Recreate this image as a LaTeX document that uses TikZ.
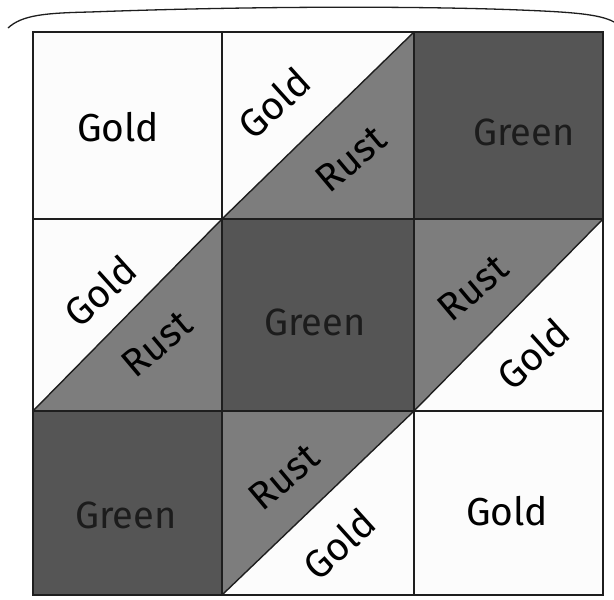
\documentclass[tikz,border=0pt]{standalone}
\usepackage{fontspec}
\setmainfont{Fira Sans}
\definecolor{greenc}{RGB}{85,85,85}
\definecolor{rustc}{RGB}{125,125,125}
\definecolor{goldc}{RGB}{252,252,252}
\definecolor{inkc}{RGB}{30,30,30}
\definecolor{darkink}{RGB}{28,28,28}
\tikzset{
  seam/.style={draw=inkc, line width=1.4pt},
  frame/.style={draw=inkc, line width=2pt},
  lbl/.style={font=\fontsize{39}{39}\selectfont, text=black, inner sep=0pt},
  glbl/.style={font=\fontsize{38}{38}\selectfont, text=darkink, inner sep=0pt},
}
\begin{document}
\begin{tikzpicture}[x=1pt,y=-1pt]
\useasboundingbox (0,0) rectangle (614,600);
\fill[white] (0,0) rectangle (614,600);
% grid coordinates
\def\xa{33}\def\xb{222}\def\xc{414}\def\xd{603}
\def\ya{32}\def\yb{219}\def\yc{411}\def\yd{595}
% Gold squares
\fill[goldc] (\xa,\ya) rectangle (\xb,\yb);
\fill[goldc] (\xc,\yc) rectangle (\xd,\yd);
% Green squares
\fill[greenc] (\xc,\ya) rectangle (\xd,\yb);
\fill[greenc] (\xb,\yb) rectangle (\xc,\yc);
\fill[greenc] (\xa,\yc) rectangle (\xb,\yd);
% top middle half-square triangles
\fill[goldc] (\xb,\ya) -- (\xc,\ya) -- (\xb,\yb) -- cycle;
\fill[rustc] (\xc,\ya) -- (\xc,\yb) -- (\xb,\yb) -- cycle;
% middle left
\fill[goldc] (\xa,\yb) -- (\xb,\yb) -- (\xa,\yc) -- cycle;
\fill[rustc] (\xb,\yb) -- (\xb,\yc) -- (\xa,\yc) -- cycle;
% middle right
\fill[rustc] (\xc,\yb) -- (\xd,\yb) -- (\xc,\yc) -- cycle;
\fill[goldc] (\xd,\yb) -- (\xd,\yc) -- (\xc,\yc) -- cycle;
% bottom middle
\fill[rustc] (\xb,\yc) -- (\xc,\yc) -- (\xb,\yd) -- cycle;
\fill[goldc] (\xc,\yc) -- (\xc,\yd) -- (\xb,\yd) -- cycle;
% seams
\draw[seam] (\xb,\ya) -- (\xb,\yd);
\draw[seam] (\xc,\ya) -- (\xc,\yd);
\draw[seam] (\xa,\yb) -- (\xd,\yb);
\draw[seam] (\xa,\yc) -- (\xd,\yc);
\draw[seam] (\xb,\yb) -- (\xc,\ya);
\draw[seam] (\xa,\yc) -- (\xb,\yb);
\draw[seam] (\xc,\yc) -- (\xd,\yb);
\draw[seam] (\xb,\yd) -- (\xc,\yc);
\draw[frame] (\xa,\ya) rectangle (\xd,\yd);
% top curved line
\draw[draw=inkc, line width=1.3pt] (8,28) .. controls (22,15) and (45,13) .. (90,12)
  .. controls (250,6) and (420,6) .. (520,10) .. controls (570,12) and (600,14) .. (614,22);
% labels
\node[lbl] (g1) at (118,127) {Gold};
\node[lbl, rotate=42] (g2) at (274,103) {Gold};
\node[lbl, rotate=40] (r1) at (351,159) {Rust};
\node[glbl] (gr1) at (524,132) {Green};
\node[lbl, rotate=42] (g3) at (100,291) {Gold};
\node[lbl, rotate=40] (r2) at (157,344) {Rust};
\node[glbl] (gr2) at (315,322) {Green};
\node[lbl, rotate=40] (r3) at (473,288) {Rust};
\node[lbl, rotate=42] (g4) at (533,354) {Gold};
\node[glbl] (gr3) at (126,515) {Green};
\node[lbl, rotate=40] (r4) at (284,477) {Rust};
\node[lbl, rotate=42] (g5) at (339,544) {Gold};
\node[lbl] (g6) at (507,511) {Gold};
\end{tikzpicture}
\end{document}
